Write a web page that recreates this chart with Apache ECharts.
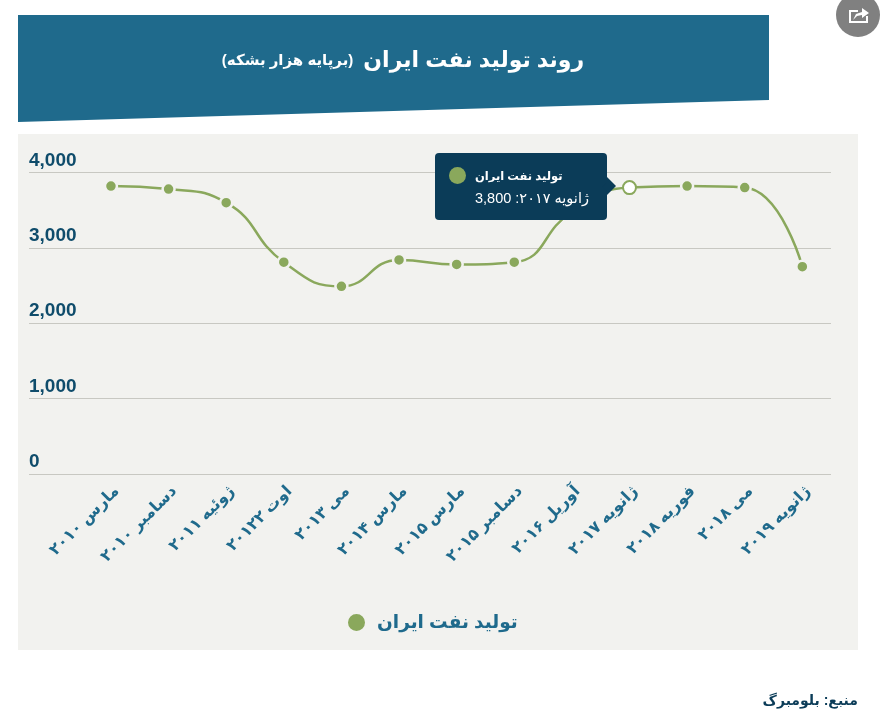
<!DOCTYPE html>
<html>
<head>
<meta charset="utf-8">
<title>روند تولید نفت ایران</title>
<script src="https://cdn.jsdelivr.net/npm/echarts@6/dist/echarts.min.js"></script>
<style>
html, body { margin: 0; padding: 0; background: #fff; }
#chart { width: 884px; height: 718px; }
</style>
</head>
<body>
<div id="chart"></div>
<script>
// data
const categories = ['مارس ۲۰۱۰', 'دسامبر ۲۰۱۰', 'ژوئیه ۲۰۱۱', 'اوت ۲۰۱۲۲', 'می ۲۰۱۳', 'مارس ۲۰۱۴', 'مارس ۲۰۱۵', 'دسامبر ۲۰۱۵', 'آوریل ۲۰۱۶', 'ژانویه ۲۰۱۷', 'فوریه ۲۰۱۸', 'می ۲۰۱۸', 'ژانویه ۲۰۱۹'];
const production = [3820, 3780, 3600, 2810, 2490, 2840, 2780, 2810, 3480, 3800, 3820, 3800, 2750];
const yTicks = [0, 1000, 2000, 3000, 4000];
const seriesName = 'تولید نفت ایران';
const titleMain = 'روند تولید نفت ایران';
const titleSub = '(برپایه هزار بشکه)';
const sourceText = 'منبع: بلومبرگ';
const hoverIndex = 9;

const FONT = '"Liberation Sans", "DejaVu Sans", sans-serif';
const BLUE = '#1f6a8c';
const NAVY = '#0b3c58';
const GREEN = '#8aa85c';
const PANEL = '#f2f2ef';

const chart = echarts.init(document.getElementById('chart'), null, { renderer: 'canvas' });

// tooltip body, the arrow is drawn here because the built in one is too small
function tipHtml(p) {
    return '<div dir="rtl" style="width:172px;height:67px;box-sizing:border-box;padding:12px 15px 0 0;text-align:left;padding-left:40px;' +
        "font-family:'Liberation Sans','DejaVu Sans',sans-serif;color:#fff;line-height:22px;position:relative\">" +
        '<div style="font-weight:bold;font-size:11.5px">' + p.seriesName + '</div>' +
        '<div style="font-size:14.5px;white-space:nowrap">' + p.name + ': ' + p.value.toLocaleString('en-US') + '</div>' +
        '<span style="position:absolute;left:14px;top:14px;width:17px;height:17px;border-radius:50%;background:' + GREEN + '"></span>' +
        '<span style="position:absolute;left:172px;top:24px;width:0;height:0;border-style:solid;border-width:9px 0 9px 9px;border-color:transparent transparent transparent ' + NAVY + '"></span></div>';
}

chart.setOption({
    animation: false,
    backgroundColor: '#fff',
    textStyle: { fontFamily: FONT },
    title: {
        text: '{sub|' + titleSub + '}  {main|' + titleMain + '}',
        left: 398, top: 45, textAlign: 'center',
        textStyle: {
            rich: {
                main: { fontFamily: FONT, fontSize: 22, fontWeight: 'bold', color: '#fff' },
                sub: { fontFamily: FONT, fontSize: 15, fontWeight: 'bold', color: '#fff' }
            }
        }
    },
    graphic: [
        { type: 'polygon', z: -10, shape: { points: [[18, 15], [769, 15], [769, 100], [18, 122]] }, style: { fill: BLUE } },
        { type: 'rect', z: -10, shape: { x: 18, y: 134, width: 840, height: 516 }, style: { fill: PANEL } },
        { type: 'circle', z: -10, shape: { cx: 858, cy: 15, r: 22 }, style: { fill: '#808080' } },
        // share icon
        { type: 'polyline', z: -9, shape: { points: [[858, 11], [850, 11], [850, 22], [867, 22], [867, 16]] }, style: { stroke: '#fff', lineWidth: 2, fill: null } },
        { type: 'polygon', z: -9, shape: { points: [[853, 20], [856, 14], [862, 12], [862, 8], [869, 13], [862, 18], [862, 15], [857, 16]] }, style: { fill: '#fff' } },
        { type: 'text', x: 858, y: 694, style: { text: sourceText, font: 'bold 14px ' + FONT, fill: NAVY, textAlign: 'right' } }
    ],
    legend: {
        data: [{ name: seriesName, icon: 'circle', itemStyle: { color: GREEN } }],
        left: 341, top: 607,
        itemWidth: 19, itemHeight: 19,
        textStyle: { fontFamily: FONT, fontSize: 18.5, fontWeight: 'bold', color: BLUE, padding: [0, 0, 0, 6] }
    },
    tooltip: {
        trigger: 'item',
        position: 'left',
        alwaysShowContent: true,
        transitionDuration: 0,
        backgroundColor: NAVY,
        borderColor: NAVY,
        borderWidth: 0,
        padding: 0,
        extraCssText: 'box-shadow:none;margin-left:-7px;margin-top:-1px;',
        formatter: tipHtml
    },
    grid: [
        { left: 29, right: 53, top: 172.5, height: 301.5 },
        { left: 82.15, right: 52.85, top: 172.5, height: 301.5 }
    ],
    xAxis: [
        { type: 'value', gridIndex: 0, min: 0, max: 1, show: false },
        {
            type: 'category', gridIndex: 1, data: categories, boundaryGap: true,
            axisLine: { show: false }, axisTick: { show: false },
            axisLabel: {
                interval: 0, rotate: 45, margin: 9, verticalAlign: 'top',
                fontFamily: FONT, fontSize: 16, fontWeight: 'bold', color: BLUE
            }
        }
    ],
    yAxis: [
        {
            type: 'value', gridIndex: 0, min: yTicks[0], max: yTicks[yTicks.length - 1], interval: 1000,
            axisLine: { show: false }, axisTick: { show: false },
            splitLine: { lineStyle: { color: '#c8c8c2', width: 1 } },
            axisLabel: {
                inside: true, margin: 0, verticalAlign: 'bottom', lineHeight: 24,
                fontFamily: FONT, fontSize: 19, fontWeight: 'bold', color: '#0f4c6b',
                formatter: v => v.toLocaleString('en-US')
            }
        },
        { type: 'value', gridIndex: 1, min: yTicks[0], max: yTicks[yTicks.length - 1], interval: 1000, show: false }
    ],
    series: [{
        name: seriesName,
        type: 'line',
        xAxisIndex: 1, yAxisIndex: 1,
        smooth: 0.5,
        symbol: 'circle',
        symbolSize: 12,
        lineStyle: { color: GREEN, width: 2.5 },
        itemStyle: { color: GREEN, borderColor: PANEL, borderWidth: 2.5 },
        data: production.map((v, i) => i === hoverIndex
            ? { value: v, symbolSize: 13, itemStyle: { color: '#fff', borderColor: GREEN, borderWidth: 2 } }
            : v)
    }]
});

chart.dispatchAction({ type: 'showTip', seriesIndex: 0, dataIndex: hoverIndex });
</script>
</body>
</html>
